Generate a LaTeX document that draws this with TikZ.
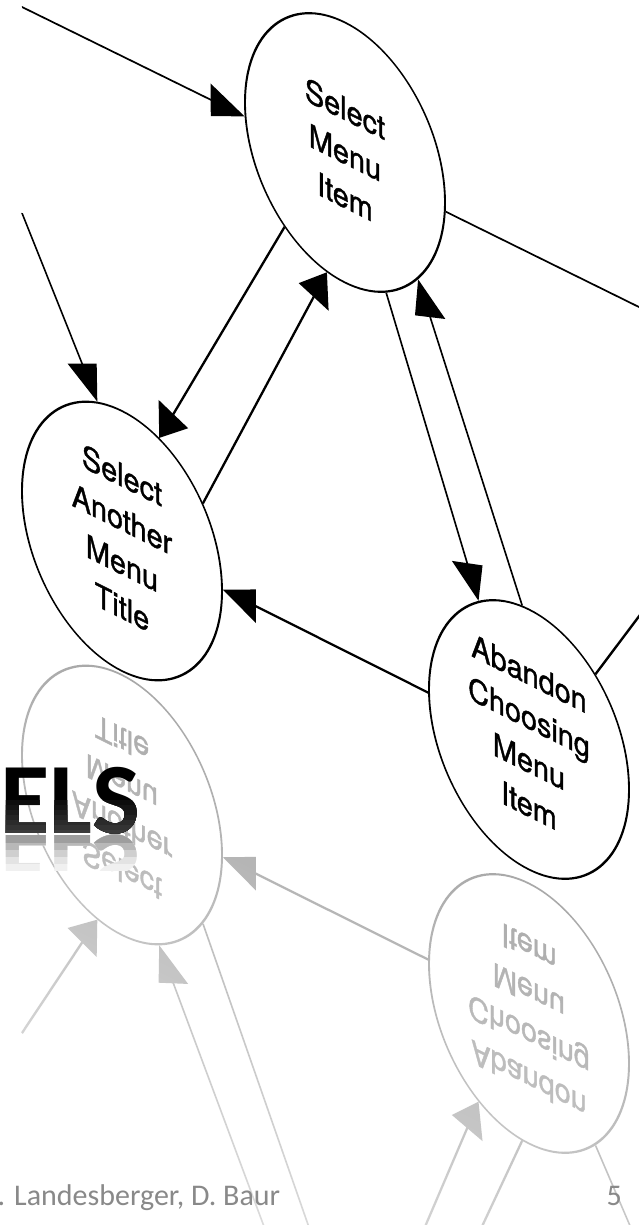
\documentclass[tikz,border=0pt]{standalone}
\usepackage{fontspec}
\usetikzlibrary{arrows.meta,fadings,shapes.geometric}
\newfontfamily\scanfont[FakeStretch=0.9,FakeBold=1.2]{TeX Gyre Heros}
\newfontfamily\slidefont{Carlito}
\definecolor{footgray}{HTML}{898989}

% white veil over the mirrored copy: light near the mirror line, dense further down
\tikzfading[name=reflfade, top color=transparent!62, bottom color=transparent!8]

\tikzset{
  state/.style={ellipse, draw, line width=1.9pt, minimum width=200pt,
    minimum height=260pt, inner sep=0pt, align=center,
    font=\scanfont\fontsize{32pt}{44pt}\selectfont},
  flow/.style={line width=1.9pt, -{Triangle[length=34pt,width=32pt]}},
  heavyflow/.style={line width=2.5pt, -{Triangle[length=33pt,width=33pt]}},
  plainline/.style={line width=1.9pt},
  foottext/.style={inner sep=0pt, text=footgray,
    font=\slidefont\fontsize{30pt}{36pt}\selectfont},
}
\newcommand\titlefont{\slidefont\bfseries\fontsize{101pt}{101pt}\selectfont}

% the state diagram in its own (unsheared) frame; #1 prefixes the node names,
% #2 is the label of the top state
\newcommand\menugraph[2]{%
  \node[state] (#1sel) at (345,20) {#2};
  \node[state] (#1another) at (122,-480) {Select\\Another\\Menu\\Title};
  \node[state] (#1abandon) at (529,-475) {Abandon\\Choosing\\Menu\\Item};
  \coordinate (#1srcA) at (22,4);
  \coordinate (#1srcB) at (22,-202);
  \coordinate (#1sinkA) at (720,13);
  \coordinate (#1sinkB) at (705,-176);
  \draw[flow] (#1srcA) -- (#1sel.188);
  \draw[flow] (#1srcB) -- (#1another.101);
  \draw[flow] (#1sel.240) -- (#1another.73);
  \draw[flow] (#1another.44) -- (#1sel.262);
  \draw[flow] (#1sel.289) -- (#1abandon.114);
  \draw[flow] (#1abandon.93) -- (#1sel.309);
  \draw[plainline] (#1sel.355) -- (#1sinkA);
  \draw[heavyflow] (#1abandon.182) -- (#1another.1);
  \draw[plainline] (#1abandon.56) -- (#1sinkB);
}

\begin{document}
\begin{tikzpicture}[x=1pt,y=1pt]
\useasboundingbox (0,0) rectangle (639,-1225);
\clip (0,0) rectangle (639,-1225);
\fill[white] (0,0) rectangle (639,-1225);

% the scanned picture is tilted in perspective: a vertical shear
\begin{scope}[transform canvas={cm={1,-0.5,0,1,(0,0)}}]
  % mirrored copy below the picture's lower edge
  \begin{scope}[yshift=-1224pt, yscale=-1, black!55,
      every node/.append style={transform shape}]
    \menugraph{r}{}
  \end{scope}
  \fill[white, path fading=reflfade] (-10,-612) rectangle (700,-1320);
  % the picture itself
  \menugraph{}{Select\\Menu\\Item}
\end{scope}

% tail of the slide title; each layer covers the part below its top edge
\node[inner sep=0pt, anchor=base west, text=black] (title) at (0,-833) {\titlefont ELS};
\foreach \i in {0,...,6} {
  \pgfmathsetmacro\g{95-\i*3}
  \begin{scope}
    \clip (-5,{-800-\i*5}) rectangle (200,-860);
    \node[inner sep=0pt, anchor=base west, text=black!\g] (titleband\i) at (0,-833) {\titlefont ELS};
  \end{scope}
}
% its reflection, darkest right under the letters
\foreach \i/\g in {0/6,1/11,2/19,3/28,4/38} {
  \begin{scope}
    \clip (-5,-834) rectangle (200,{-870+\i*7});
    \begin{scope}[shift={(0,-835)}, yscale=-1]
      \node[inner sep=0pt, anchor=base west, text=black!\g, transform shape] (titlerefl\i) at (0,0) {\titlefont ELS};
    \end{scope}
  \end{scope}
}

% footer
\node[foottext, anchor=base west] (footer) at (-10,-1205) {r. Landesberger, D. Baur};
\node[foottext, anchor=base east] (pageno) at (622,-1205) {5};
\end{tikzpicture}
\end{document}
